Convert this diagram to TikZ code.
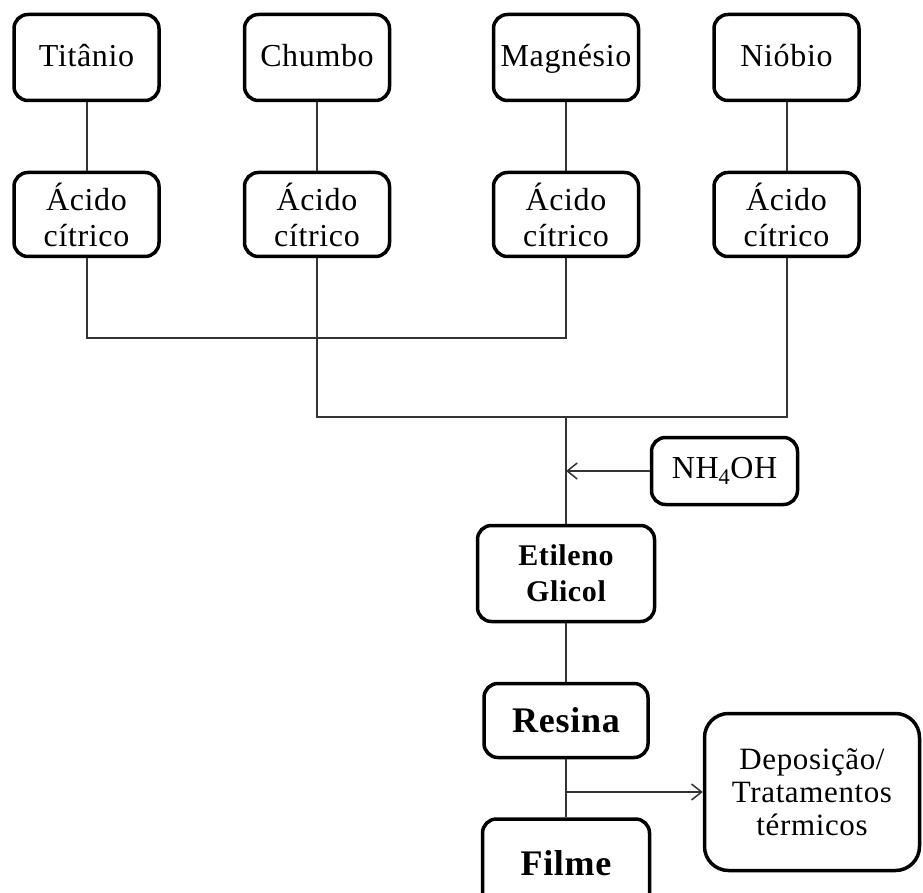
\documentclass[tikz,border=0pt]{standalone}
\usepackage{fontspec}
\setmainfont{Liberation Serif}[LetterSpace=2]
\usetikzlibrary{arrows.meta}

\begin{document}
\begin{tikzpicture}[x=1pt, y=-1pt,
  box/.style={draw=black, line width=3.5pt, rounded corners=14pt, align=center,
    inner sep=0pt, font=\fontsize{32}{36}\selectfont},
  metal/.style={box, minimum width=145pt, minimum height=86pt,
    text height=24pt, text depth=6pt},
  acid/.style={box, minimum width=145pt, minimum height=84pt},
  link/.style={draw=black!80, line width=2pt},
  feed/.style={link, -{Straight Barb[length=10pt,width=16pt,line width=1.5pt]}}
]
\useasboundingbox (0,0) rectangle (923,893);
\clip (0,0) rectangle (923,893);

% metal precursors
\node[metal] (ti) at (86.5,57.5) {Titânio};
\node[metal] (pb) at (317,57.5)  {Chumbo};
\node[metal] (mg) at (566,57.5)  {Magnésio};
\node[metal] (nb) at (786.5,57.5) {Nióbio};

% citric acid complexation
\node[acid] (ati) at (86.5,214.5) {Ácido\\cítrico};
\node[acid] (apb) at (317,214.5)  {Ácido\\cítrico};
\node[acid] (amg) at (566,214.5)  {Ácido\\cítrico};
\node[acid] (anb) at (786.5,214.5) {Ácido\\cítrico};

% reagents and products
\node[box, minimum width=146pt, minimum height=67pt] (nh) at (724.5,471) {NH\textsubscript{4}OH};
\node[box, minimum width=177pt, minimum height=96pt, font=\fontsize{30}{36}\selectfont\bfseries] (etg) at (566,573.5) {Etileno\\Glicol};
\node[box, minimum width=164pt, minimum height=74pt, font=\fontsize{36}{40}\selectfont\bfseries] (res) at (566,720.5) {Resina};
\node[box, minimum width=167pt, minimum height=91pt, font=\fontsize{36}{40}\selectfont\bfseries] (fil) at (566,864.5) {\raisebox{3pt}{Filme}};
\node[box, rounded corners=24pt, minimum width=215pt, minimum height=157pt, font=\fontsize{31}{33}\selectfont] (dep) at (812,792) {Deposição/\\Tratamentos\\térmicos};

% collector bars
\coordinate (bar1) at (0,338);
\coordinate (bar2) at (0,417);

% connectors
\draw[link] (ti) -- (ati);
\draw[link] (pb) -- (apb);
\draw[link] (mg) -- (amg);
\draw[link] (nb) -- (anb);
\draw[link] (ati.south) -- (ati.south |- bar1) -| (amg.south);
\draw[link] (apb.south) -- (apb.south |- bar2) -| (anb.south);
\draw[link] (etg.north |- bar2) -- (etg.north);
\draw[feed] (nh.west) -- (nh.west -| etg.north);
\draw[link] (etg) -- (res);
\draw[link] (res) -- (fil);
\draw[feed] (dep.west -| res.south) -- (dep.west);
\end{tikzpicture}
\end{document}
